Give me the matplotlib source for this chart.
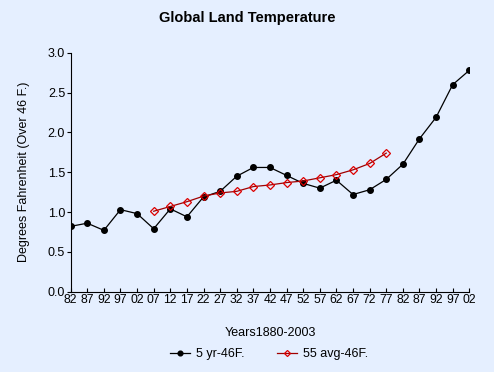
import numpy as np
from matplotlib import pyplot as plt

plt.rcParams['font.family'] = ['Liberation Sans', 'DejaVu Sans']

# tick labels along the x axis (years 1882 .. 2002, every 5 years)
year_labels = ['82', '87', '92', '97', '02', '07', '12', '17', '22', '27', '32', '37', '42',
               '47', '52', '57', '62', '67', '72', '77', '82', '87', '92', '97', '02']

# 5 yr average minus 46 F
five_yr = [0.82, 0.86, 0.77, 1.03, 0.98, 0.79, 1.04, 0.94, 1.19, 1.26, 1.45, 1.56, 1.56,
           1.46, 1.36, 1.30, 1.40, 1.22, 1.28, 1.41, 1.60, 1.92, 2.19, 2.60, 2.78]

# 55 yr average minus 46 F, starts at '07 and ends at '77
avg55_start = 5
avg55 = [1.01, 1.07, 1.13, 1.20, 1.24, 1.26, 1.32, 1.34, 1.37, 1.39, 1.43, 1.47, 1.53,
         1.61, 1.74]

bg = '#e5efff'

fig = plt.figure(figsize=(4.94, 3.72), dpi=100, facecolor=bg)
ax = fig.add_axes([0.143, 0.216, 0.807, 0.642])
ax.set_facecolor(bg)

x = np.arange(len(five_yr))
x55 = np.arange(avg55_start, avg55_start + len(avg55))

ax.plot(x, five_yr, color='black', lw=0.9, marker='o', ms=4, label='5 yr-46F.')
ax.plot(x55, avg55, color='#a00000', lw=0.9, marker='D', ms=3.6, mfc='none',
        mec='#dd0000', mew=0.9, label='55 avg-46F.')

ax.set_xlim(0, len(five_yr) - 1)
ax.set_ylim(0, 3.0)
ax.set_xticks(x)
ax.set_xticklabels(year_labels)
ax.set_yticks(np.arange(0, 3.01, 0.5))
ax.set_yticklabels([f'{v:.1f}' for v in np.arange(0, 3.01, 0.5)])

for side in ['top', 'right']:
    ax.spines[side].set_visible(False)
for side in ['left', 'bottom']:
    ax.spines[side].set_linewidth(0.8)
    ax.spines[side].set_clip_on(False)

ax.tick_params(axis='x', direction='in', length=3, width=0.8, labelsize=8.7, pad=2)
ax.tick_params(axis='y', direction='out', length=3, width=0.8, labelsize=9, pad=1)

fig.text(0.5, 0.952, 'Global Land Temperature', ha='center', va='center',
         fontsize=10.5, fontweight='bold')
ax.set_ylabel('Degrees Fahrenheit (Over 46 F.)', fontsize=9, labelpad=13)
ax.set_xlabel('Years1880-2003', fontsize=9, labelpad=15)

fig.legend(loc='center', bbox_to_anchor=(0.545, 0.048), ncol=2, frameon=False,
           fontsize=9, handlelength=1.6, columnspacing=2.6, handletextpad=0.5,
           markerscale=0.85)

fig.savefig('out.png', dpi=100, facecolor=bg)
